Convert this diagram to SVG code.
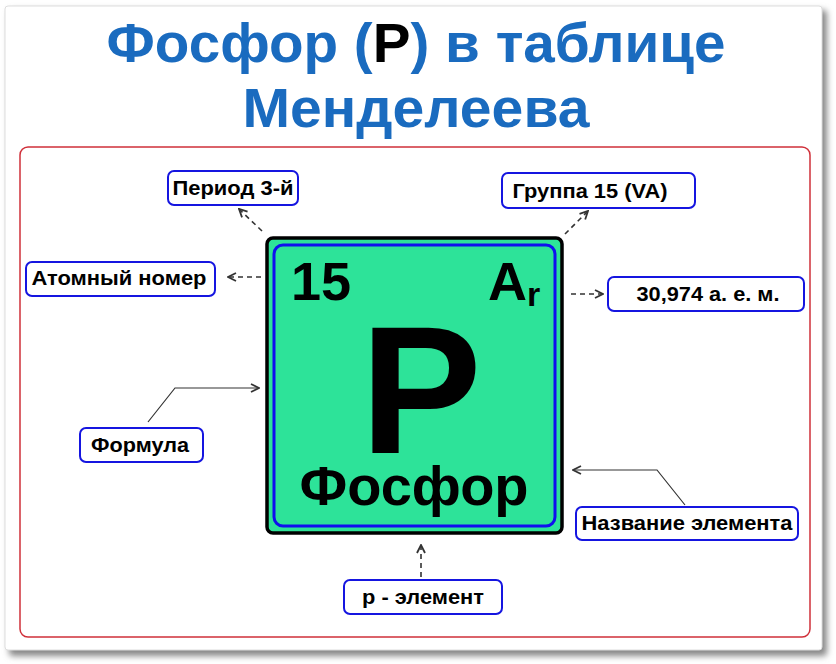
<svg xmlns="http://www.w3.org/2000/svg" width="836" height="664" viewBox="0 0 836 664">
<style>
.lbl rect{fill:#fff;stroke:#1515e0;stroke-width:2}
.lbl text{font-family:"Liberation Sans",Arial,sans-serif;font-weight:bold;font-size:20px;fill:#000;text-anchor:middle}
.dash{fill:none;stroke:#333;stroke-width:1.6;stroke-dasharray:5 4}
.solid{fill:none;stroke:#333;stroke-width:1.2}
.big{font-family:"Liberation Sans",Arial,sans-serif;font-weight:bold;fill:#000}
.title{font-family:"Liberation Sans",Arial,sans-serif;font-weight:bold;font-size:56px;fill:#1a6bbf;text-anchor:middle}
</style>
<defs>
<marker id="arr" viewBox="0 0 10 10" refX="9" refY="5" markerWidth="10" markerHeight="10" markerUnits="userSpaceOnUse" orient="auto">
<path d="M1,1 L9,5 L1,9" fill="none" stroke="#333" stroke-width="1.8"/>
</marker>
<filter id="sh" x="-5%" y="-5%" width="110%" height="110%">
<feGaussianBlur stdDeviation="3"/>
</filter>
</defs>
<rect width="836" height="664" fill="#fff"/>
<rect x="9" y="10" width="818" height="646" rx="4" fill="#888" filter="url(#sh)"/>
<rect x="5" y="6" width="817" height="644" rx="3" fill="#fff" stroke="#ddd" stroke-width="1"/>
<g id="title">
<text class="title" x="416" y="62" textLength="619" lengthAdjust="spacingAndGlyphs">Фосфор (<tspan fill="#000">P</tspan>) в таблице</text>
<text class="title" x="416" y="127" textLength="347" lengthAdjust="spacingAndGlyphs">Менделеева</text>
</g>
<rect x="20" y="147" width="790" height="490" rx="8" fill="#fff" stroke="#d0303a" stroke-width="1.5"/>
<g id="element">
<rect x="267" y="238" width="295" height="295" rx="6" fill="#2de399" stroke="#000" stroke-width="3.5"/>
<rect x="274" y="245" width="281" height="281" rx="9" fill="#2de399" stroke="#1010ee" stroke-width="3"/>
<text class="big" x="291" y="300" font-size="54">15</text>
<text class="big" x="488" y="300" font-size="54">A<tspan font-size="34" dy="6">r</tspan></text>
<text class="big" x="421" y="453" font-size="182" text-anchor="middle">P</text>
<text class="big" x="414" y="505" font-size="56" text-anchor="middle">Фосфор</text>
</g>
<g id="period" class="lbl"><rect x="168" y="171" width="130" height="34" rx="6"/><text x="233" y="195" textLength="121" lengthAdjust="spacingAndGlyphs">Период 3-й</text></g>
<g id="atomic" class="lbl"><rect x="26" y="262" width="189" height="34" rx="6"/><text x="119" y="285" textLength="175" lengthAdjust="spacingAndGlyphs">Атомный номер</text></g>
<g id="group" class="lbl"><rect x="502" y="173" width="193" height="35" rx="6"/><text x="590" y="198" textLength="155" lengthAdjust="spacingAndGlyphs">Группа 15 (VA)</text></g>
<g id="mass" class="lbl"><rect x="608" y="277" width="196" height="34" rx="6"/><text x="708" y="301" textLength="143" lengthAdjust="spacingAndGlyphs">30,974 а. е. м.</text></g>
<g id="formula" class="lbl"><rect x="80" y="428" width="123" height="34" rx="6"/><text x="140" y="452" textLength="98" lengthAdjust="spacingAndGlyphs">Формула</text></g>
<g id="name" class="lbl"><rect x="576" y="507" width="222" height="33" rx="6"/><text x="687" y="530" textLength="211" lengthAdjust="spacingAndGlyphs">Название элемента</text></g>
<g id="pelem" class="lbl"><rect x="344" y="580" width="158" height="34" rx="6"/><text x="423" y="604" textLength="122" lengthAdjust="spacingAndGlyphs">р - элемент</text></g>
<g id="connectors">
<path class="dash" d="M262,231 L239,209" marker-end="url(#arr)"/>
<path class="dash" d="M261,277 L228,277" marker-end="url(#arr)"/>
<path class="dash" d="M565,234 L588,211" marker-end="url(#arr)"/>
<path class="dash" d="M571,294 L603,294" marker-end="url(#arr)"/>
<path class="solid" d="M148,422 L175,388 L259,388" marker-end="url(#arr)"/>
<path class="solid" d="M685,505 L657,470 L573,470" marker-end="url(#arr)"/>
<path class="dash" d="M421,577 L421,545" marker-end="url(#arr)"/>
</g>
</svg>
